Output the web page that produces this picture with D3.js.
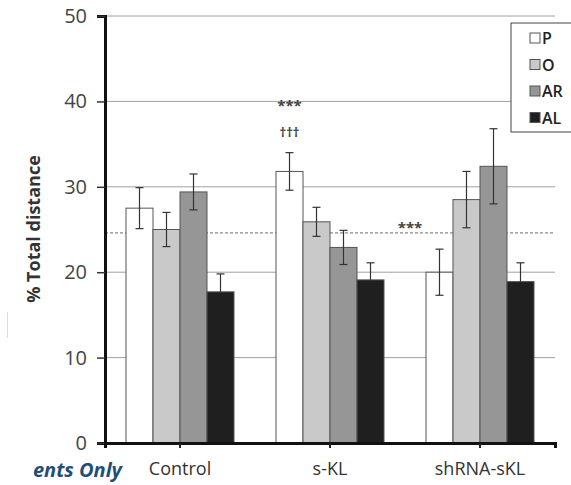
<!DOCTYPE html>
<meta charset="utf-8">
<head>
<style>
body { margin: 0; background: #fff; }
text { font-family: "Open Sans", sans-serif; }
</style>
<script src="https://cdnjs.cloudflare.com/ajax/libs/d3/7.8.5/d3.min.js"></script>
</head>
<body>
<div id="vis-container"></div>
<script>
// groups and series
var groups = ['Control', 's-KL', 'shRNA-sKL']
var series = ['P', 'O', 'AR', 'AL']
var colors = ['#ffffff', '#c9c9c9', '#969696', '#1f1f1f']

// means and error (sem) per group, order P, O, AR, AL
var means = [
  [27.5, 25.0, 29.4, 17.7],
  [31.8, 25.9, 22.9, 19.1],
  [20.0, 28.5, 32.4, 18.9]
]
var errs = [
  [2.4, 2.0, 2.1, 2.1],
  [2.2, 1.7, 2.0, 2.0],
  [2.7, 3.3, 4.4, 2.2]
]
var yTicks = [0, 10, 20, 30, 40, 50]
var refLine = 24.6

var width = 571, height = 485
var svg = d3.select('#vis-container').append('svg')
  .attr('width', width).attr('height', height)

var x0 = d3.scaleBand().domain(groups).range([105, 555])
  .paddingInner(0.28).paddingOuter(0.14)
var x1 = d3.scaleBand().domain(series).range([0, x0.bandwidth()])
var y = d3.scaleLinear().domain([0, 50]).range([443, 16])

// grid
svg.append('g').selectAll('line')
  .data(yTicks.slice(1))
  .enter().append('line')
  .attr('x1', 105).attr('x2', 555)
  .attr('y1', function(d) { return y(d) }).attr('y2', function(d) { return y(d) })
  .attr('stroke', '#a0a0a0').attr('stroke-width', 1)

svg.append('line')
  .attr('x1', 105).attr('x2', 555)
  .attr('y1', y(refLine)).attr('y2', y(refLine))
  .attr('stroke', '#8a8a8a').attr('stroke-width', 1.2)
  .attr('stroke-dasharray', '3,2')

// bars
var gGroups = svg.selectAll('.grp')
  .data(groups)
  .enter().append('g')
  .attr('transform', function(d) { return 'translate(' + x0(d) + ',0)' })

gGroups.each(function(g, gi) {
  var sel = d3.select(this)
  var rows = series.map(function(s, si) {
    return {s: s, si: si, v: means[gi][si], e: errs[gi][si]}
  })
  sel.selectAll('rect').data(rows).enter().append('rect')
    .attr('x', function(d) { return x1(d.s) })
    .attr('width', x1.bandwidth())
    .attr('y', function(d) { return y(d.v) })
    .attr('height', function(d) { return y(0) - y(d.v) })
    .attr('fill', function(d) { return colors[d.si] })
    .attr('stroke', '#555').attr('stroke-width', 1)

  var eb = sel.selectAll('.eb').data(rows).enter().append('g')
  eb.append('line')
    .attr('x1', function(d) { return x1(d.s) + x1.bandwidth() / 2 })
    .attr('x2', function(d) { return x1(d.s) + x1.bandwidth() / 2 })
    .attr('y1', function(d) { return y(d.v + d.e) })
    .attr('y2', function(d) { return y(d.si == 3 ? d.v : d.v - d.e) })
    .attr('stroke', '#333').attr('stroke-width', 1.2)
  eb.append('line')
    .attr('x1', function(d) { return x1(d.s) + x1.bandwidth() / 2 - 4 })
    .attr('x2', function(d) { return x1(d.s) + x1.bandwidth() / 2 + 4 })
    .attr('y1', function(d) { return y(d.v + d.e) })
    .attr('y2', function(d) { return y(d.v + d.e) })
    .attr('stroke', '#333').attr('stroke-width', 1.2)
  eb.filter(function(d) { return d.si != 3 }).append('line')
    .attr('x1', function(d) { return x1(d.s) + x1.bandwidth() / 2 - 4 })
    .attr('x2', function(d) { return x1(d.s) + x1.bandwidth() / 2 + 4 })
    .attr('y1', function(d) { return y(d.v - d.e) })
    .attr('y2', function(d) { return y(d.v - d.e) })
    .attr('stroke', '#333').attr('stroke-width', 1.2)
})

// significance marks
var sx = x0('s-KL') + x1('P') + x1.bandwidth() / 2
svg.append('text').attr('x', sx).attr('y', 111).attr('text-anchor', 'middle')
  .style('font-size', '15px').style('font-weight', 'bold').attr('fill', '#444').text('***')
svg.append('text').attr('x', sx).attr('y', 137).attr('text-anchor', 'middle')
  .style('font-size', '13px').style('font-weight', 'bold').attr('fill', '#444').text('†††')
svg.append('text').attr('x', x0('shRNA-sKL') + x1('P') - 16).attr('y', 233).attr('text-anchor', 'middle')
  .style('font-size', '15px').style('font-weight', 'bold').attr('fill', '#444').text('***')

// axes
var yAxis = svg.append('g').attr('transform', 'translate(105,0)')
  .call(d3.axisLeft(y).tickValues(yTicks).tickSize(8).tickPadding(10))
yAxis.select('.domain').attr('stroke', '#111').attr('stroke-width', 3)
yAxis.selectAll('.tick line').attr('stroke', '#333').attr('stroke-width', 1.5)
yAxis.selectAll('text').style('font-size', '20px').attr('fill', '#444')
  .style('font-family', '"Open Sans", sans-serif')

var xAxis = svg.append('g').attr('transform', 'translate(0,443)')
  .call(d3.axisBottom(x0).tickSize(5).tickSizeOuter(5).tickPadding(14))
xAxis.select('.domain').attr('stroke', '#111').attr('stroke-width', 3)
xAxis.selectAll('.tick line').attr('stroke', '#222').attr('stroke-width', 2)
xAxis.selectAll('text').style('font-size', '18px').attr('fill', '#333')
  .style('font-family', '"Open Sans", sans-serif')

svg.append('text')
  .attr('transform', 'translate(40,229) rotate(-90)')
  .attr('text-anchor', 'middle')
  .style('font-size', '18px').style('font-weight', 'bold').attr('fill', '#333')
  .text('% Total distance')

// legend
var lg = svg.append('g').attr('transform', 'translate(511,23)')
lg.append('rect').attr('width', 70).attr('height', 109)
  .attr('fill', '#fff').attr('stroke', '#444').attr('stroke-width', 1)
var li = lg.selectAll('.li').data(series).enter().append('g')
  .attr('transform', function(d, i) { return 'translate(19,' + (10 + i * 26.5) + ')' })
li.append('rect').attr('width', 10).attr('height', 10)
  .attr('fill', function(d, i) { return colors[i] })
  .attr('stroke', '#555').attr('stroke-width', 1)
li.append('text').attr('x', 12).attr('y', 11)
  .style('font-size', '16px').style('font-weight', '600').attr('fill', '#222')
  .text(function(d) { return d })

// watermark remnant
svg.append('text').attr('x', 122).attr('y', 477).attr('text-anchor', 'end')
  .style('font-size', '20px').style('font-weight', 'bold').style('font-style', 'italic')
  .attr('fill', '#1f4e79').text('ents Only')
svg.append('line').attr('x1', 7.5).attr('x2', 7.5).attr('y1', 312).attr('y2', 338)
  .attr('stroke', '#ddd').attr('stroke-width', 1)
</script>
</body>
</html>
